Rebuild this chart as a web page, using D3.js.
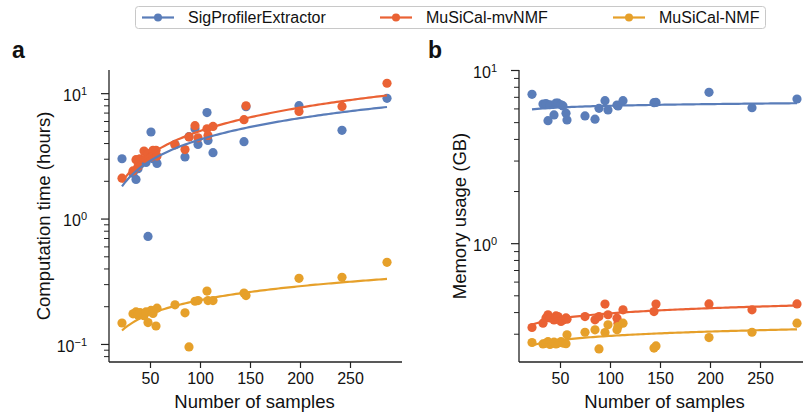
<!DOCTYPE html>
<html>
<head>
<meta charset="utf-8">
<script src="https://cdn.jsdelivr.net/npm/d3@7/dist/d3.min.js"></script>
<style>
  body { margin: 0; background: #fff; }
  svg { display: block; font-family: "Liberation Sans", Arial, Helvetica, sans-serif; }
</style>
</head>
<body>
<svg id="chart" width="803" height="420"></svg>
<script>
// ---------------- data ----------------
const methods = ["SigProfilerExtractor", "MuSiCal-mvNMF", "MuSiCal-NMF"];
const samples = [22, 33, 36, 38, 40, 44, 46, 48, 51, 53, 56, 57, 75, 85, 89, 95, 98, 107, 108, 113, 144, 146, 199, 242, 287];

// computation time (hours)
const timeSigProfiler = [3.0, 2.3, 2.05, 2.5, 2.7, 2.9, 2.8, 0.72, 4.9, 3.0, 3.1, 2.75, 3.9, 3.1, 4.5, 5.2, 3.9, 7.0, 4.2, 3.35, 4.1, 7.8, 7.95, 5.05, 9.1];
const timeMvNMF       = [2.1, 2.4, 2.95, 2.6, 3.0, 3.45, 3.0, 3.3, 3.1, 3.5, 3.5, 3.15, 3.87, 3.55, 4.48, 5.5, 4.4, 5.2, 4.6, 5.43, 6.14, 7.93, 7.14, 7.84, 12.0];
const timeNMF         = [0.147, 0.174, 0.18, 0.17, 0.178, 0.168, 0.18, 0.148, 0.185, 0.175, 0.139, 0.193, 0.205, 0.177, 0.0947, 0.219, 0.222, 0.264, 0.222, 0.222, 0.255, 0.243, 0.334, 0.34, 0.448];

// memory usage (GB)
const memSigProfiler = [7.24, 6.36, 6.4, 5.1, 6.3, 5.5, 6.45, 6.43, 6.3, 6.2, 5.63, 5.15, 5.43, 5.2, 6.01, 6.65, 5.88, 6.28, 6.2, 6.65, 6.48, 6.5, 7.43, 6.06, 6.8];
const memMvNMF       = [0.326, 0.345, 0.37, 0.386, 0.37, 0.36, 0.38, 0.377, 0.353, 0.36, 0.37, 0.364, 0.377, 0.361, 0.377, 0.445, 0.386, 0.369, 0.345, 0.412, 0.403, 0.445, 0.446, 0.412, 0.446];
const memNMF         = [0.267, 0.262, 0.265, 0.27, 0.26, 0.268, 0.262, 0.265, 0.27, 0.265, 0.263, 0.296, 0.306, 0.316, 0.245, 0.305, 0.338, 0.316, 0.33, 0.345, 0.248, 0.255, 0.285, 0.306, 0.345];

const xTicks = [50, 100, 150, 200, 250];
const panelLetters = ["a", "b"];
const yTitles = ["Computation time (hours)", "Memory usage (GB)"];
const xTitle = "Number of samples";

// ---------------- styles / layout ----------------
const colors = ["#5a7db9", "#ea6234", "#e6a02a"];
const svg = d3.select("#chart");
svg.append("rect").attr("width", 803).attr("height", 420).attr("fill", "#fff");

const panels = [
  { series: [timeSigProfiler, timeMvNMF, timeNMF], x0: 109, x1: 402, yDomain: [0.0718, 15.3], letterX: 12 },
  { series: [memSigProfiler, memMvNMF, memNMF], x0: 519, x1: 812, yDomain: [0.206, 10], letterX: 428 }
];
const yTop = 70, yBot = 362;
const xDomain = [9, 302];

function fitPower(xs, ys) {
  const lx = xs.map(Math.log10), ly = ys.map(Math.log10);
  const mx = d3.mean(lx), my = d3.mean(ly);
  let sxy = 0, sxx = 0;
  lx.forEach((v, i) => { sxy += (v - mx) * (ly[i] - my); sxx += (v - mx) * (v - mx); });
  const b = sxy / sxx, a = my - b * mx;
  return x => Math.pow(10, a + b * Math.log10(x));
}

panels.forEach((p, pi) => {
  const x = d3.scaleLinear().domain(xDomain).range([p.x0, p.x1]);
  const y = d3.scaleLog().domain(p.yDomain).range([yBot, yTop]);
  const g = svg.append("g");

  const lo = Math.floor(Math.log10(p.yDomain[0])), hi = Math.ceil(Math.log10(p.yDomain[1]));
  const minor = [], major = [];
  for (let e = lo; e <= hi; e++) {
    for (let m = 1; m <= 9; m++) {
      const v = m * Math.pow(10, e);
      if (v < p.yDomain[0] * 0.999 || v > p.yDomain[1] * 1.001) continue;
      if (m === 1) major.push(v); else minor.push(v);
    }
  }
  const yMinorAxis = d3.axisLeft(y).tickValues(minor).tickSize(5).tickFormat("");
  const gm = g.append("g").attr("transform", `translate(${p.x0},0)`).call(yMinorAxis);
  gm.select(".domain").remove();
  gm.selectAll("line").attr("stroke", "#222").attr("stroke-width", 1);

  const yMajorAxis = d3.axisLeft(y).tickValues(major).tickSize(8).tickFormat("");
  const gM = g.append("g").attr("transform", `translate(${p.x0},0)`).call(yMajorAxis);
  gM.select(".domain").attr("stroke", "#222").attr("stroke-width", 1.3).attr("d", `M0,${yTop}V${yBot}`);
  gM.selectAll("line").attr("stroke", "#222").attr("stroke-width", 1.2);
  gM.selectAll(".tick").each(function(d) {
    const e = Math.round(Math.log10(d));
    const t = d3.select(this).append("text")
      .attr("x", -22).attr("y", 0).attr("dy", "0.45em")
      .attr("text-anchor", "end").attr("fill", "#111")
      .attr("font-size", 16);
    t.append("tspan").text("10");
    t.append("tspan").attr("dy", "-0.55em").attr("font-size", 11).text(e < 0 ? "\u2212" + Math.abs(e) : String(e));
  });

  const xAxis = d3.axisBottom(x).tickValues(xTicks).tickSize(6).tickPadding(5);
  const gx = g.append("g").attr("transform", `translate(0,${yBot})`).call(xAxis);
  gx.select(".domain").attr("stroke", "#222").attr("stroke-width", 1.3).attr("d", `M${p.x0},0H${p.x1}`);
  gx.selectAll("line").attr("stroke", "#222").attr("stroke-width", 1.2);
  gx.selectAll("text").attr("font-size", 16).attr("fill", "#111").attr("font-family", null);

  g.append("text").attr("x", (p.x0 + x(300)) / 2 ).attr("y", 408)
    .attr("text-anchor", "middle").attr("font-size", 18.5).attr("fill", "#111").text(xTitle);
  const ylx = pi === 0 ? 49.5 : 466;
  g.append("text").attr("transform", `translate(${ylx},${(yTop + yBot) / 2}) rotate(-90)`)
    .attr("text-anchor", "middle").attr("font-size", 18.5).attr("fill", "#111").text(yTitles[pi]);
  g.append("text").attr("x", p.letterX).attr("y", 58).attr("font-size", 23).attr("font-weight", "bold")
    .attr("fill", "#111").text(panelLetters[pi]);

  p.series.forEach((vals, si) => {
    const pts = samples.map((n, i) => ({ n, v: vals[i] }));
    g.append("g").selectAll("circle").data(pts).join("circle")
      .attr("cx", d => x(d.n)).attr("cy", d => y(d.v)).attr("r", 4.6)
      .attr("fill", colors[si]);
  });
  p.series.forEach((vals, si) => {
    const f = fitPower(samples, vals);
    const xs = d3.range(0, 101).map(k => d3.min(samples) + k * (d3.max(samples) - d3.min(samples)) / 100);
    const line = d3.line().x(d => x(d)).y(d => y(f(d)));
    g.append("path").datum(xs).attr("d", line).attr("fill", "none")
      .attr("stroke", colors[si]).attr("stroke-width", 2.2);
  });
});

// legend
const leg = svg.append("g");
leg.append("rect").attr("x", 135.5).attr("y", 6.5).attr("width", 630).attr("height", 22).attr("rx", 3)
  .attr("fill", "#fff").attr("stroke", "#c8c8c8").attr("stroke-width", 1);
const legX = [142, 380, 613];
methods.forEach((m, i) => {
  const gi = leg.append("g").attr("transform", `translate(${legX[i]},17.5)`);
  gi.append("line").attr("x1", 0).attr("x2", 32).attr("stroke", colors[i]).attr("stroke-width", 2.2);
  gi.append("circle").attr("cx", 16).attr("r", 4).attr("fill", colors[i]);
  gi.append("text").attr("x", 46).attr("dy", "0.36em").attr("font-size", 16).attr("fill", "#111").text(m);
});
</script>
</body>
</html>
